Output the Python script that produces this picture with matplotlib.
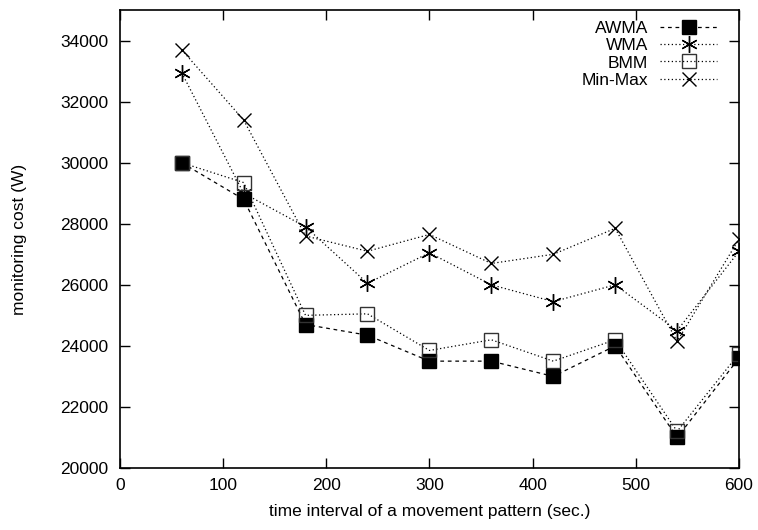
import matplotlib.pyplot as plt
import numpy as np

plt.rcParams['font.family'] = ['Liberation Sans', 'DejaVu Sans']

interval = [60, 120, 180, 240, 300, 360, 420, 480, 540, 600]
awma = [30000, 28800, 24700, 24350, 23500, 23500, 23000, 24000, 21000, 23600]
wma = [32950, 29000, 27900, 26050, 27050, 26000, 25450, 26000, 24500, 27100]
bmm = [30000, 29350, 25000, 25050, 23850, 24200, 23500, 24200, 21200, 23750]
minmax = [33700, 31400, 27600, 27100, 27650, 26700, 27000, 27850, 24150, 27500]

fig = plt.figure(figsize=(7.58, 5.30), dpi=100)
ax = fig.add_axes([0.158, 0.117, 0.817, 0.864])

ax.plot(interval, awma, color='black', lw=0.9, ls=(0, (3, 3)),
        marker='s', ms=9.5, mfc='black', mec='black', label='AWMA')
ax.plot(interval, wma, color='black', lw=0.9, ls=(0, (1, 2)),
        marker=(6, 2, 0), ms=12, mew=1, mec='black', label='WMA')
ax.plot(interval, bmm, color='black', lw=0.9, ls=(0, (1, 2)),
        marker='s', ms=10, mfc='none', mec='#333333', mew=1, label='BMM')
ax.plot(interval, minmax, color='black', lw=0.9, ls=(0, (1, 2)),
        marker='x', ms=10, mew=1, mec='black', label='Min-Max')

ax.set_xlim(0, 600)
ax.set_ylim(20000, 35000)
ax.set_xticks(np.arange(0, 601, 100))
ax.set_yticks(np.arange(20000, 34001, 2000))
ax.tick_params(direction='in', top=True, right=True, length=7, width=1,
               labelsize=12.5)
ax.tick_params(axis='y', pad=8)
ax.tick_params(axis='x', pad=7)
for s in ax.spines.values():
    s.set_linewidth(1.2)

ax.set_xlabel('time interval of a movement pattern (sec.)', fontsize=12.5, labelpad=8)
ax.set_ylabel('monitoring cost (W)', fontsize=12.5, labelpad=24)

ax.legend(loc='upper right', bbox_to_anchor=(0.965, 0.977), frameon=False,
          markerfirst=False, fontsize=12.5, handlelength=3.3, handletextpad=0.7,
          labelspacing=0.13, borderaxespad=0, borderpad=0)

fig.savefig('out.png', dpi=100)
